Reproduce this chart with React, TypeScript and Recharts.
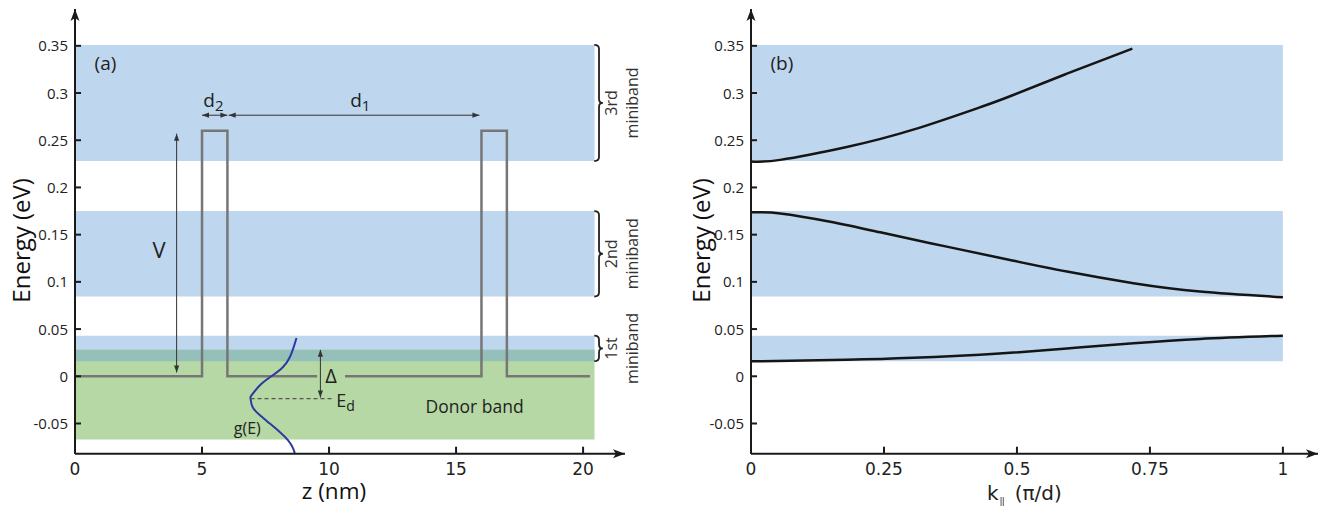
import React from 'react';
import { LineChart, Line, XAxis, YAxis, ReferenceArea, ReferenceLine, ReferenceDot } from 'recharts';

// axes
const ENERGY_TICKS = [-0.05, 0, 0.05, 0.1, 0.15, 0.2, 0.25, 0.3, 0.35];
const Z_TICKS = [0, 5, 10, 15, 20];
const K_TICKS = [0, 0.25, 0.5, 0.75, 1];
const E_DOMAIN = [-0.082, 0.389];
const Z_DOMAIN = [0, 21.65];
const K_DOMAIN = [0, 1.066];

// minibands and donor band (eV)
const BAND_NAMES = ['1st', '2nd', '3rd'];
const BAND_LO = [0.016, 0.0845, 0.228];
const BAND_HI = [0.043, 0.175, 0.351];
const DONOR_BAND = [-0.067, 0.028];
const BAND_Z_END = 20.45;

// superlattice potential V(z), null = gap around the Delta label
const POT_Z = [0, 5, 5, 6, 6, 9.53, 10, 10.63, 16, 16, 17, 17, 20.27];
const POT_E = [0, 0, 0.26, 0.26, 0, 0, null, 0, 0, 0.26, 0.26, 0, 0];

// sketch of the donor density of states g(E)
const G_Z = [8.72, 8.61, 8.46, 8.19, 7.73, 7.28, 6.95, 6.91, 6.99, 7.28, 7.67, 8.06, 8.39, 8.59, 8.69];
const G_E = [0.0406, 0.031, 0.0204, 0.0099, 0, -0.0095, -0.0201, -0.0236, -0.0325, -0.0413, -0.0501, -0.059, -0.0678, -0.0766, -0.0855];
const E_D = -0.0236;

// in-plane dispersion, one curve per miniband
const K1 = [0, 0.18, 0.305, 0.43, 0.487, 0.594, 0.719, 0.844, 1];
const E1 = [0.0158, 0.0174, 0.0195, 0.0228, 0.0248, 0.0295, 0.035, 0.0396, 0.043];
const K2 = [0, 0.055, 0.149, 0.243, 0.368, 0.487, 0.594, 0.719, 0.844, 1];
const E2 = [0.1736, 0.1725, 0.1637, 0.1525, 0.1373, 0.1232, 0.1109, 0.0986, 0.0898, 0.0838];
const K3 = [0, 0.055, 0.18, 0.305, 0.43, 0.487, 0.594, 0.717];
const E3 = [0.2275, 0.2292, 0.2428, 0.2612, 0.2848, 0.2966, 0.3205, 0.347];

const INK = '#1a1a1a';
const BLUE = '#bed6ee';
const GREEN = '#b5d8a4';
const TEAL = '#95c0b9';
const POT = '#767676';
const GAUSS = '#2b3aa0';
const SANS = '"Open Sans", sans-serif';
const DEJAVU = '"DejaVu Sans", sans-serif';

const potential = POT_Z.map((z, i) => ({ z, E: POT_E[i] }));
const gauss = G_Z.map((z, i) => ({ z, E: G_E[i] }));
const disp = [
  K1.map((k, i) => ({ k, E: E1[i] })),
  K2.map((k, i) => ({ k, E: E2[i] })),
  K3.map((k, i) => ({ k, E: E3[i] })),
];

// ticks point inward, so draw them ourselves next to the label
const YTick = ({ x, y, payload }: any) => (
  <g>
    <line x1={x + 7} x2={x + 13} y1={y} y2={y} stroke={INK} strokeWidth={2} />
    <text x={x} y={y} dy={5.5} textAnchor="end" fontFamily={SANS} fontSize={15} fill="#222">
      {String(payload.value)}
    </text>
  </g>
);

const XTick = ({ x, y, payload }: any) => (
  <g>
    <line x1={x} x2={x} y1={y - 8} y2={y - 15} stroke={INK} strokeWidth={2} />
    <text x={x} y={y} dy={13.5} textAnchor="middle" fontFamily={DEJAVU} fontSize={17} fill="#222">
      {String(payload.value)}
    </text>
  </g>
);

const head = (x: number, y: number, ang: number, len = 7, half = 2.6) => {
  const c = Math.cos(ang);
  const s = Math.sin(ang);
  const bx = x - len * c;
  const by = y - len * s;
  return `M${x},${y} L${bx - half * s},${by + half * c} L${bx + half * s},${by - half * c} Z`;
};

const DoubleArrow = ({ x1, y1, x2, y2 }: any) => {
  const a = Math.atan2(y2 - y1, x2 - x1);
  return (
    <g>
      <line x1={x1} y1={y1} x2={x2} y2={y2} stroke="#333" strokeWidth={1} />
      <path d={head(x2, y2, a)} fill="#333" />
      <path d={head(x1, y1, a + Math.PI)} fill="#333" />
    </g>
  );
};

const UpArrow = ({ cx, cy }: any) => (
  <path d={`M${cx},${cy} L${cx - 4.5},${cy + 12} L${cx},${cy + 9} L${cx + 4.5},${cy + 12} Z`} fill={INK} />
);
const RightArrow = ({ cx, cy }: any) => (
  <path d={`M${cx},${cy} L${cx - 12},${cy - 4.5} L${cx - 9},${cy} L${cx - 12},${cy + 4.5} Z`} fill={INK} />
);

const Brace = ({ x, y, width, height }: any) => {
  const xs = x + width * 0.55;
  const xm = x + width;
  const ym = y + height / 2;
  const d = `M${x},${y} Q${xs},${y} ${xs},${y + 4} L${xs},${ym - 4} Q${xs},${ym} ${xm},${ym} Q${xs},${ym} ${xs},${ym + 4} L${xs},${y + height - 4} Q${xs},${y + height} ${x},${y + height}`;
  return <path d={d} fill="none" stroke="#222" strokeWidth={1.8} />;
};

const note = (content: React.ReactNode, style: any = {}) => (p: any) => (
  <text x={p.cx} y={p.cy} fontFamily={SANS} fill="#222" {...style}>
    {content}
  </text>
);

const bandLabel = (name: string) => (p: any) => (
  <text transform={`rotate(-90 ${p.cx} ${p.cy})`} fontFamily={SANS} fontSize={16} fill="#333" textAnchor="middle">
    <tspan x={p.cx} y={p.cy} dy={6}>{name}</tspan>
    <tspan x={p.cx} y={p.cy} dy={27}>miniband</tspan>
  </text>
);

const energyLabel = (dx: number) => ({ viewBox }: any) => {
  const cx = viewBox.x + dx;
  const cy = viewBox.y + viewBox.height / 2 + 9;
  return (
    <text transform={`rotate(-90 ${cx} ${cy})`} x={cx} y={cy} textAnchor="middle" fontFamily={SANS} fontSize={24} fontWeight={500} fill="#111">
      Energy (eV)
    </text>
  );
};

const ZLabel = ({ viewBox }: any) => (
  <text x={viewBox.x + 259} y={viewBox.y + 45.5} textAnchor="middle" fontFamily={SANS} fontSize={22.5} fontWeight={500} fill="#111">
    z (nm)
  </text>
);

const KLabel = ({ viewBox }: any) => (
  <text x={viewBox.x + 236} y={viewBox.y + 46} fontFamily={DEJAVU} fontSize={20} fill="#222">
    <tspan>k</tspan>
    <tspan fontSize={9} dy={4} dx={1} letterSpacing={-1}>||</tspan>
    <tspan dx={11} dy={-4}>(π/d)</tspan>
  </text>
);

const PotentialPanel = () => (
  <LineChart width={660} height={506} margin={{ top: 9, right: 35, bottom: 22, left: 0 }}>
    <XAxis type="number" dataKey="z" domain={Z_DOMAIN} ticks={Z_TICKS} interval={0} allowDataOverflow height={30.3}
      axisLine={{ stroke: INK, strokeWidth: 2 }} tickLine={false} tickSize={4} tickMargin={4} tick={XTick} label={ZLabel} />
    <YAxis type="number" domain={E_DOMAIN} ticks={ENERGY_TICKS} interval={0} allowDataOverflow width={75}
      axisLine={{ stroke: INK, strokeWidth: 2 }} tickLine={false} tickSize={4} tickMargin={3} tick={YTick} label={energyLabel(30)} />

    {BAND_LO.map((lo, i) => (
      <ReferenceArea key={'band' + i} x1={0} x2={BAND_Z_END} y1={lo} y2={BAND_HI[i]} fill={BLUE} fillOpacity={1} stroke="none" />
    ))}
    <ReferenceArea x1={0} x2={BAND_Z_END} y1={DONOR_BAND[0]} y2={DONOR_BAND[1]} fill={GREEN} fillOpacity={1} stroke="none" />
    <ReferenceArea x1={0} x2={BAND_Z_END} y1={Math.max(BAND_LO[0], DONOR_BAND[0])} y2={Math.min(BAND_HI[0], DONOR_BAND[1])}
      fill={TEAL} fillOpacity={1} stroke="none" />
    {BAND_LO.map((lo, i) => (
      <ReferenceArea key={'brace' + i} x1={20.44} x2={20.78} y1={lo} y2={BAND_HI[i]} ifOverflow="visible" shape={Brace} />
    ))}

    <Line data={potential} dataKey="E" type="linear" stroke={POT} strokeWidth={2.5} dot={false} connectNulls={false} isAnimationActive={false} />
    <Line data={gauss} dataKey="E" type="natural" stroke={GAUSS} strokeWidth={2} dot={false} isAnimationActive={false} />

    <ReferenceLine segment={[{ x: 6.91, y: E_D }, { x: 10.22, y: E_D }]} stroke="#555" strokeWidth={1.3} strokeDasharray="4 3" />
    <ReferenceLine segment={[{ x: 4, y: 0.257 }, { x: 4, y: 0.004 }]} shape={DoubleArrow} />
    <ReferenceLine segment={[{ x: 5, y: 0.2765 }, { x: 6, y: 0.2765 }]} shape={DoubleArrow} />
    <ReferenceLine segment={[{ x: 6.05, y: 0.2765 }, { x: 15.92, y: 0.2765 }]} shape={DoubleArrow} />
    <ReferenceLine segment={[{ x: 9.66, y: DONOR_BAND[1] }, { x: 9.66, y: E_D + 0.001 }]} shape={DoubleArrow} />

    <ReferenceDot x={1.2} y={0.3244} ifOverflow="visible" shape={note('(a)', { fontSize: 19, textAnchor: 'middle' })} />
    <ReferenceDot x={5.05} y={0.2856} ifOverflow="visible" shape={note(
      [<tspan key="d">d</tspan>, <tspan key="s" fontSize={15} dy={4}>2</tspan>], { fontSize: 19 })} />
    <ReferenceDot x={10.83} y={0.2856} ifOverflow="visible" shape={note(
      [<tspan key="d">d</tspan>, <tspan key="s" fontSize={15} dy={4}>1</tspan>], { fontSize: 19 })} />
    <ReferenceDot x={3.31} y={0.1253} ifOverflow="visible" shape={note('V', { fontSize: 22, textAnchor: 'middle' })} />
    <ReferenceDot x={10.08} y={-0.0068} ifOverflow="visible" shape={note('Δ', { fontSize: 20, textAnchor: 'middle' })} />
    <ReferenceDot x={10.28} y={-0.0325} ifOverflow="visible" shape={note(
      [<tspan key="e">E</tspan>, <tspan key="s" fontSize={14} dy={4}>d</tspan>], { fontSize: 18 })} />
    <ReferenceDot x={6.78} y={-0.0607} ifOverflow="visible" shape={note('g(E)', { fontSize: 16, textAnchor: 'middle' })} />
    <ReferenceDot x={15.73} y={-0.039} ifOverflow="visible" shape={note('Donor band', { fontSize: 17.5, textAnchor: 'middle' })} />

    {BAND_NAMES.map((name, i) => (
      <ReferenceDot key={name} x={21.09} y={(BAND_LO[i] + BAND_HI[i]) / 2} ifOverflow="visible" shape={bandLabel(name)} />
    ))}

    <ReferenceDot x={Z_DOMAIN[1]} y={E_DOMAIN[0]} ifOverflow="visible" shape={RightArrow} />
    <ReferenceDot x={0} y={E_DOMAIN[1]} ifOverflow="visible" shape={UpArrow} />
  </LineChart>
);

const DispersionPanel = () => (
  <LineChart width={666} height={506} margin={{ top: 9, right: 8, bottom: 22, left: 0 }}>
    <XAxis type="number" dataKey="k" domain={K_DOMAIN} ticks={K_TICKS} interval={0} allowDataOverflow height={30.3}
      axisLine={{ stroke: INK, strokeWidth: 2 }} tickLine={false} tickSize={4} tickMargin={4} tick={XTick} label={KLabel} />
    <YAxis type="number" domain={E_DOMAIN} ticks={ENERGY_TICKS} interval={0} allowDataOverflow width={91}
      axisLine={{ stroke: INK, strokeWidth: 2 }} tickLine={false} tickSize={4} tickMargin={3} tick={YTick} label={energyLabel(50)} />

    {BAND_LO.map((lo, i) => (
      <ReferenceArea key={'band' + i} x1={0} x2={1} y1={lo} y2={BAND_HI[i]} fill={BLUE} fillOpacity={1} stroke="none" />
    ))}

    {disp.map((d, i) => (
      <Line key={'disp' + i} data={d} dataKey="E" type="natural" stroke="#151515" strokeWidth={2.5} dot={false} isAnimationActive={false} />
    ))}

    <ReferenceDot x={0.058} y={0.3244} ifOverflow="visible" shape={note('(b)', { fontSize: 19, textAnchor: 'middle' })} />
    <ReferenceDot x={K_DOMAIN[1]} y={E_DOMAIN[0]} ifOverflow="visible" shape={RightArrow} />
    <ReferenceDot x={0} y={E_DOMAIN[1]} ifOverflow="visible" shape={UpArrow} />
  </LineChart>
);

export default function App() {
  return (
    <div style={{ position: 'fixed', left: 0, top: 0, width: 1326, height: 506, background: '#fff' }}>
      <div style={{ position: 'absolute', left: 0, top: 0 }}>
        <PotentialPanel />
      </div>
      <div style={{ position: 'absolute', left: 660, top: 0 }}>
        <DispersionPanel />
      </div>
    </div>
  );
}
